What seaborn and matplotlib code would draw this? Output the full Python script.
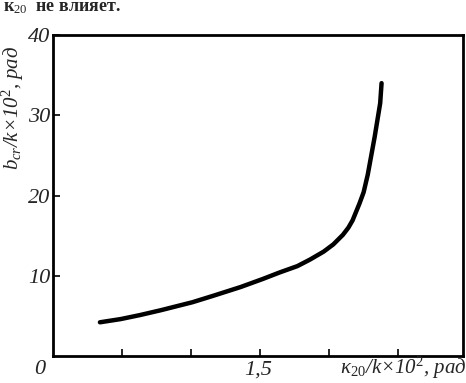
import matplotlib
matplotlib.use("Agg")
import matplotlib.pyplot as plt
import seaborn as sns
import pandas as pd

# curve
kappa = [0.34, 0.49, 0.63, 0.78, 1.01, 1.16, 1.36, 1.52, 1.64, 1.77, 1.86, 1.96,
         2.03, 2.10, 2.14, 2.17, 2.22, 2.25, 2.28, 2.33, 2.37, 2.38]
b_cr = [4.2, 4.6, 5.1, 5.7, 6.7, 7.5, 8.6, 9.6, 10.4, 11.2, 12.0, 13.0,
        13.9, 15.1, 16.0, 16.9, 19.0, 20.4, 22.6, 27.3, 31.5, 34.0]

x_ticks = [0.5, 1.0, 1.5, 2.0, 2.5]
y_ticks = [10, 20, 30, 40]
y_tick_labels = ["10", "20", "30", "40"]

sns.set_style("white")
plt.rcParams["font.family"] = ["Liberation Serif", "DejaVu Serif"]
plt.rcParams["mathtext.fontset"] = "custom"
plt.rcParams["mathtext.rm"] = "Liberation Serif"
plt.rcParams["mathtext.it"] = "Liberation Serif:italic"

df = pd.DataFrame({"kappa": kappa, "b_cr": b_cr})

fig = plt.figure(figsize=(4.66, 3.83), dpi=100)
ax = fig.add_axes([0.1137, 0.0705, 0.8799, 0.8381])

sns.lineplot(data=df, x="kappa", y="b_cr", ax=ax, color="black", linewidth=3.2,
             sort=False, estimator=None, solid_capstyle="round", solid_joinstyle="round")

ax.set_xlim(0, 2.97)
ax.set_ylim(0, 40)
for s in ax.spines.values():
    s.set_color("black")
    s.set_linewidth(2)

ax.set_xticks(x_ticks)
ax.set_xticklabels([])
ax.set_yticks(y_ticks)
ax.set_yticklabels(y_tick_labels, fontsize=16, style="italic")
ax.tick_params(axis="both", direction="in", length=5, width=1.2, color="black",
               left=True, bottom=True, pad=2)
ax.set_xlabel("")
ax.set_ylabel("")

# axis text placed like in the original figure
fig.text(40 / 466, 1 - 370 / 383, "0", fontsize=16, style="italic", ha="center", va="center")
fig.text(258 / 466, 1 - 370 / 383, "1,5", fontsize=16, style="italic", ha="center", va="center")
fig.text(1.0, 1 - 368 / 383, r"κ$_{20}$/$k$×10$^2$, рад", fontsize=15, style="italic",
         ha="right", va="center")
fig.text(13 / 466, 1 - 108 / 383, r"$b_{cr}$/$k$×10$^2$, рад", fontsize=15, style="italic",
         rotation=90, ha="center", va="center")
fig.text(3 / 466, 1 - 7 / 383, r"к$_{20}$  не влияет.", fontsize=13, weight="bold",
         ha="left", va="center")

fig.savefig("out.png", dpi=100, facecolor="white")
